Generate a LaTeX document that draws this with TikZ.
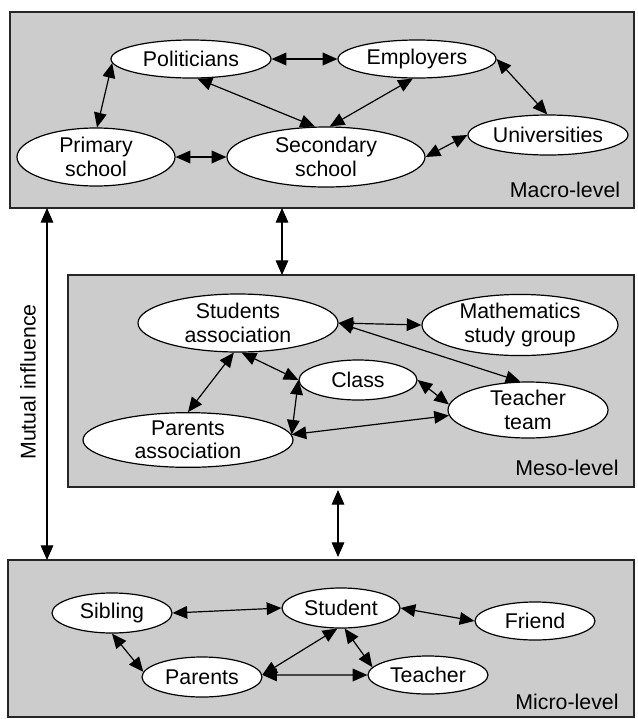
\documentclass[tikz,border=0pt]{standalone}
\usepackage{fontspec}
\setmainfont{Liberation Sans}
\usetikzlibrary{arrows.meta,shapes.geometric}
\definecolor{boxgray}{RGB}{204,204,204}
\begin{document}
\begin{tikzpicture}[x=0.75pt,y=-0.75pt,
  every node/.style={font=\fontsize{16}{17.5}\selectfont},
  lvbox/.style={draw=black!85, line width=0.8pt, fill=boxgray},
  ent/.style={ellipse, draw=black, line width=0.9pt, fill=white, inner sep=0pt, align=center},
  link/.style={{Triangle[length=11pt,width=9.5pt]}-{Triangle[length=11pt,width=9.5pt]}, line width=0.9pt},
  lvlabel/.style={inner sep=0pt}
  ]
\fill[white] (0,0) rectangle (637,719);
\useasboundingbox (0,0) rectangle (637,719);

% level boxes
\draw[lvbox] (10,12) rectangle (634,208);
\draw[lvbox] (68,275) rectangle (634,487);
\draw[lvbox] (8,560) rectangle (634,717);

\node[lvlabel] (macrolbl) at (565,190) {Macro-level};
\node[lvlabel] (mesolbl) at (567,468) {Meso-level};
\node[lvlabel] (microlbl) at (567,702) {Micro-level};
\node[lvlabel, rotate=90] (mutual) at (28,382) {Mutual influence};

% connector ends between levels
\coordinate (mi1) at (47,208);
\coordinate (mi2) at (47,560);
\coordinate (mm1) at (282,208);
\coordinate (mm2) at (282,275);
\coordinate (ms1) at (338,490);
\coordinate (ms2) at (338,557);
\draw[link] (mi1) -- (mi2);
\draw[link] (mm1) -- (mm2);
\draw[link] (ms1) -- (ms2);

% macro level
\node[ent, minimum width=120pt, minimum height=28.5pt] (pol) at (191,59) {Politicians};
\node[ent, minimum width=118.5pt, minimum height=28.5pt] (emp) at (417,59) {Employers};
\node[ent, minimum width=118.5pt, minimum height=43.5pt] (pri) at (96,157) {Primary\\school};
\node[ent, minimum width=148.5pt, minimum height=45pt] (sec) at (326,157) {Secondary\\school};
\node[ent, minimum width=120pt, minimum height=30pt] (uni) at (548,135) {Universities};

\draw[link] (pol.east) -- (emp.west);
\draw[link] (pol.183) -- (pri.88);
\draw[link] (pol.-72) -- (sec.110);
\draw[link] (emp.-102) -- (sec.83);
\draw[link] (emp.east) -- (uni.92);
\draw[link] (pri.east) -- (sec.west);
\draw[link] (sec.east) -- (uni.west);

% meso level
\node[ent, minimum width=150pt, minimum height=43.5pt] (sa) at (238,323) {Students\\association};
\node[ent, minimum width=147pt, minimum height=42pt] (msg) at (520,325) {Mathematics\\study group};
\node[ent, minimum width=88.5pt, minimum height=30pt] (cls) at (358,380) {Class};
\node[ent, minimum width=120pt, minimum height=42pt] (tt) at (528,410) {Teacher\\team};
\node[ent, minimum width=157.5pt, minimum height=41pt] (pa) at (188,440) {Parents\\association};

\draw[link] (sa.east) -- (msg.west);
\draw[link] (sa.east) -- (tt.105);
\draw[link] (sa.-98) -- (pa.north);
\draw[link] (sa.-83) -- (cls.west);
\draw[link] (cls.west) -- (pa.3);
\draw[link] (pa.3) -- (tt.184);
\draw[link] (cls.east) -- (tt.176);

% micro level
\node[ent, minimum width=90pt, minimum height=30pt] (sib) at (112,613) {Sibling};
\node[ent, minimum width=88.5pt, minimum height=30pt] (stu) at (341,608) {Student};
\node[ent, minimum width=90pt, minimum height=28.5pt] (fri) at (535,621) {Friend};
\node[ent, minimum width=90pt, minimum height=30pt] (par) at (202,677) {Parents};
\node[ent, minimum width=90pt, minimum height=28.5pt] (tea) at (428,675) {Teacher};

\draw[link] (sib.east) -- (stu.west);
\draw[link] (stu.east) -- (fri.west);
\draw[link] (sib.south) -- (par.175);
\draw[link] (stu.-100) -- (par.2);
\draw[link] (stu.-80) -- (tea.172);
\draw[link] (par.2) -- (tea.west);
\end{tikzpicture}
\end{document}
